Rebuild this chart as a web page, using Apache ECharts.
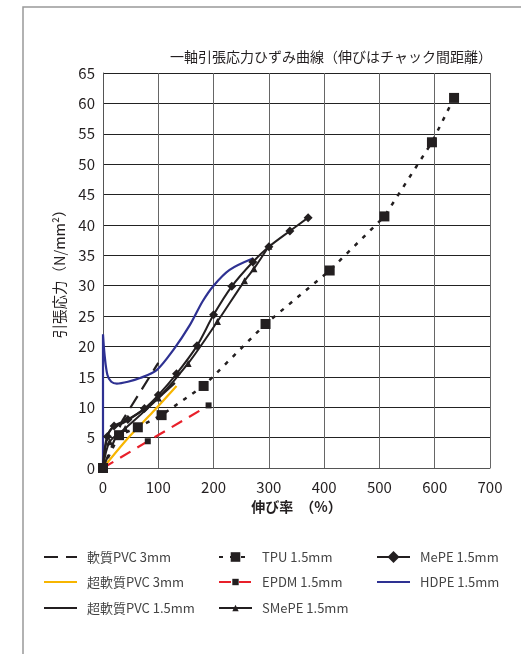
<!DOCTYPE html>
<html><head><meta charset="utf-8">
<script src="https://cdn.jsdelivr.net/npm/echarts@6/dist/echarts.min.js"></script>
<style>html,body{margin:0;padding:0;background:#fff}#c{width:521px;height:654px}</style>
</head><body><div id="c"></div>
<script>
const titleText = '一軸引張応力ひずみ曲線（伸びはチャック間距離）';
const xName = '伸び率　（%）';
const yName = '引張応力（N/mm²）';
const xTicks = [0,100,200,300,400,500,600,700];
const yTicks = [0,5,10,15,20,25,30,35,40,45,50,55,60,65];

const softPVC3 = [[0,0],[35,7.8],[100,17.3]];
const tpu = [[0,0],[29,5.4],[63,6.7],[106,8.7],[182,13.5],[294,23.7],[410,32.5],[509,41.4],[595,53.6],[635,60.9]];
const mepe = [[0,0],[8,5.2],[20,6.9],[45,8.0],[75,9.8],[100,12.0],[133,15.5],[170,20.1],[200,25.2],[233,29.9],[271,33.9],[300,36.4],[338,39.0],[371,41.2]];
const ultraPVC3 = [[0,0],[45,4.9],[90,9.2],[133,13.5]];
const epdm = [[0,0],[81,4.4],[191,10.3]];
const hdpe = [[0,0],[0,22],[3,18.5],[8,15.3],[15,14.2],[25,13.9],[45,14.2],[67,14.8],[97,16.1],[127,19.4],[157,23.5],[180,27.4],[200,30.0],[229,32.6],[272,34.5]];
const ultraPVC15 = [[0,0],[5,4.2],[15,6.4],[40,7.6],[80,10.0],[130,14.0]];
const smepe = [[0,0],[12,4.3],[40,6.5],[100,11.5],[154,17.2],[207,24.1],[256,30.8],[273,32.8],[300,36.5]];

const names = ['軟質PVC 3mm','TPU 1.5mm','MePE 1.5mm','超軟質PVC 3mm','EPDM 1.5mm','HDPE 1.5mm','超軟質PVC 1.5mm','SMePE 1.5mm'];
const BLK = '#231f20';

// legend layout: [left, centerY, itemHeight (sets marker size), hideMarker]
const legendLayout = [
  [43,557,14,true],[218,557,12,false],[376,557,15,false],
  [43,582,14,true],[218,582,8,false],[376,582,14,true],
  [43,608,14,true],[218,608,8,false]
];
const TEXT_H = 18;
const legends = names.map((n,i)=>{
  const [l,cy,h,hide] = legendLayout[i];
  return {left:l, top:cy-Math.max(h,TEXT_H)/2, padding:0, itemWidth:33, itemHeight:h,
    textStyle:{fontSize:13, lineHeight:TEXT_H, color:'#444', fontFamily:'Noto Sans CJK JP', padding:[0,0,0,5]},
    data:[hide ? {name:n, itemStyle:{opacity:0}} : {name:n}]};
});

const chart = echarts.init(document.getElementById('c'));
chart.setOption({
  animation:false,
  backgroundColor:'#fff',
  graphic:[
    {type:'rect', shape:{x:23,y:7,width:700,height:800}, style:{fill:'none', stroke:'#999', lineWidth:1.5}, silent:true},
    {type:'text', right:29, top:50, style:{text:titleText, fontSize:14, fill:BLK, fontFamily:'Noto Sans CJK JP'}}
  ],
  grid:{left:103, right:31, top:73, bottom:186},
  xAxis:{type:'value', min:0, max:700, interval:100, name:xName, nameLocation:'middle', nameGap:31,
    nameTextStyle:{fontSize:14, color:BLK, fontFamily:'Noto Sans CJK JP', fontWeight:'bold'},
    axisLine:{show:true, lineStyle:{color:'#555', width:1}}, axisTick:{show:false},
    axisLabel:{fontSize:15, color:BLK, margin:12, fontFamily:'Noto Sans CJK JP', formatter:v=>xTicks.includes(v)?String(v):''},
    splitLine:{show:true, lineStyle:{color:'#666', width:1}}},
  yAxis:{type:'value', min:0, max:65, interval:5, name:yName, nameLocation:'middle', nameGap:36, nameRotate:90,
    nameTextStyle:{fontSize:14.5, color:BLK, fontFamily:'Noto Sans CJK JP'},
    axisLine:{show:true, lineStyle:{color:'#555', width:1}}, axisTick:{show:false},
    axisLabel:{fontSize:15, color:BLK, margin:8, fontFamily:'Noto Sans CJK JP', formatter:v=>yTicks.includes(v)?String(v):''},
    splitLine:{show:true, lineStyle:{color:'#222', width:1}}},
  legend:legends,
  series:[
    {name:names[0], type:'line', data:softPVC3, symbol:'none', lineStyle:{color:BLK, width:2.2, type:[14,8]}, itemStyle:{color:BLK}, z:3},
    {name:names[1], type:'line', data:tpu, symbol:'rect', symbolSize:10, lineStyle:{color:BLK, width:2.5, type:[4,7]}, itemStyle:{color:BLK}, z:3},
    {name:names[2], type:'line', data:mepe, smooth:0.3, symbol:'diamond', symbolSize:9, lineStyle:{color:BLK, width:2}, itemStyle:{color:BLK}, z:4},
    {name:names[3], type:'line', data:ultraPVC3, smooth:0.3, symbol:'none', lineStyle:{color:'#f7b500', width:2.2}, itemStyle:{color:'#f7b500'}, z:2},
    {name:names[4], type:'line', data:epdm, symbol:'rect', symbolSize:6, lineStyle:{color:'#e8202a', width:2.2, type:[12,8]}, itemStyle:{color:BLK}, z:3},
    {name:names[5], type:'line', data:hdpe, smooth:0.3, symbol:'none', lineStyle:{color:'#2e3192', width:2.2}, itemStyle:{color:'#2e3192'}, z:2},
    {name:names[6], type:'line', data:ultraPVC15, smooth:0.3, symbol:'none', lineStyle:{color:BLK, width:2.2}, itemStyle:{color:BLK}, z:3},
    {name:names[7], type:'line', data:smepe, smooth:0.3, symbol:'triangle', symbolSize:7, lineStyle:{color:BLK, width:2}, itemStyle:{color:BLK}, z:4}
  ]
});
</script></body></html>
